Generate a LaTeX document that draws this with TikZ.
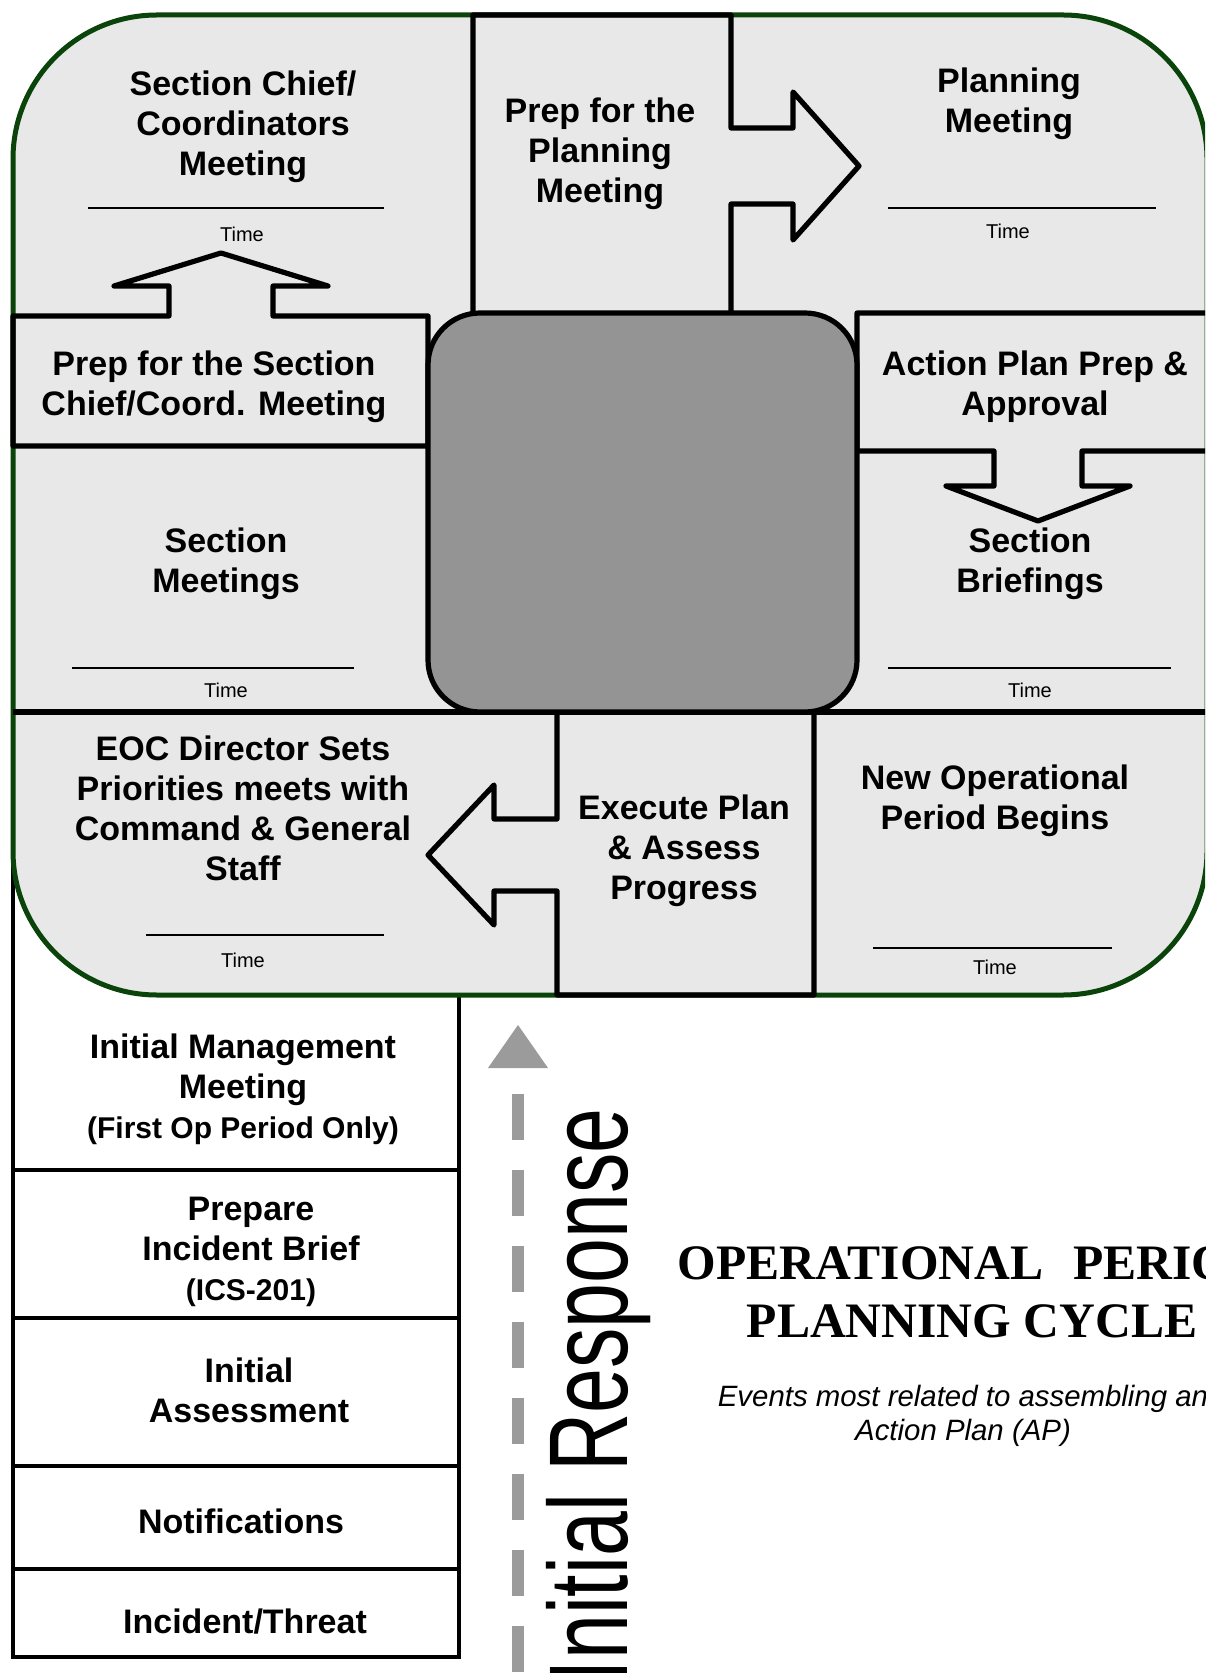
\documentclass[tikz,border=0pt]{standalone}
\usepackage{graphicx}
\usepackage{fontspec}
\setmainfont{Liberation Sans}
\newfontfamily\titleserif{Liberation Serif}
\usetikzlibrary{arrows.meta}
\definecolor{CyclePale}{RGB}{232,232,232}
\definecolor{CycleCore}{RGB}{148,148,148}
\definecolor{CycleGreen}{RGB}{10,68,10}
\definecolor{CycleDash}{RGB}{155,155,155}
\newcommand{\parenfont}{\bfseries\fontsize{15}{20}\selectfont}
\tikzset{
  contorno/.style={draw=black, line width=2.6pt, line join=round},
  contornoverde/.style={draw=CycleGreen, fill=CyclePale, line width=2.5pt},
  pilha/.style={draw=black, line width=2pt},
  celltext/.style={font=\bfseries\fontsize{17}{20}\selectfont, align=center, inner sep=0pt},
  timerule/.style={draw=black, line width=0.8pt},
  timetext/.style={font=\fontsize{10}{12}\selectfont, inner sep=0pt},
}

\begin{document}
\begin{tikzpicture}[x=0.5pt,y=-0.5pt]
  \useasboundingbox (0,0) rectangle (1205,1673);
  \clip (0,0) rectangle (1205,1673);

  % ------------------------------------------------------------------ initial response stack
  \draw[pilha] (13,800) rectangle (459,1657);
  \foreach \y in {1170,1318,1466,1569}{
    \draw[pilha] (13,\y) -- (459,\y);
  }

  % ------------------------------------------------------------------ planning cycle
  \draw[contornoverde, rounded corners=72pt] (13,15) rectangle (1207,995);
  % prep for the planning meeting, arrow to the right
  \draw[contorno] (473,313) -- (473,15) -- (731,15) -- (731,128) -- (793,128) -- (793,92)
    -- (859,166) -- (793,240) -- (793,204) -- (731,204) -- (731,313);
  % prep for the section chief meeting, arrow up
  \draw[contorno] (428,316) -- (273,316) -- (273,286) -- (328,286) -- (221,253) -- (114,286)
    -- (169,286) -- (169,316) -- (13,316) -- (13,446) -- (428,446) -- cycle;
  % action plan prep, arrow down
  \draw[contorno] (1215,313) -- (857,313) -- (857,451) -- (994,451) -- (994,486) -- (946,486)
    -- (1038,521) -- (1130,486) -- (1082,486) -- (1082,451) -- (1215,451);
  \draw[contorno] (13,712) -- (1207,712);
  % execute plan, arrow to the left
  \draw[contorno] (557,712) -- (557,819) -- (494,819) -- (494,785) -- (428,855) -- (494,925)
    -- (494,891) -- (557,891) -- (557,995) -- (814,995) -- (814,712);
  % centre block
  \draw[contorno, fill=CycleCore, rounded corners=26pt] (428,313) rectangle (857,712);

  % time lines: label sits a little off the middle of its line
  \foreach \n/\xa/\xb/\yy/\xt/\yt in {sc/88/384/208/242/234, pm/888/1156/208/1008/231,
                                     sm/72/354/668/226/690, sb/888/1171/668/1030/690,
                                     eoc/146/384/935/243/960, nop/873/1112/948/995/967}{
    \draw[timerule] (\xa,\yy) -- (\xb,\yy);
    \node[timetext] (time\n) at (\xt,\yt) {Time};
  }

  \node[celltext] (scmeet) at (243,127) {Section Chief/\\Coordinators\\Meeting};
  \node[celltext] (prepplan) at (600,154) {Prep for the\\Planning\\Meeting};
  \node[celltext] (planmeet) at (1009,104) {Planning\\Meeting};
  \node[celltext] (prepsc) at (214,387) {Prep for the Section\\Chief/Coord. Meeting};
  \node[celltext] (secmeet) at (226,564) {Section\\Meetings};
  \node[celltext] (approval) at (1035,387) {Action Plan Prep \&\\Approval};
  \node[celltext] (briefing) at (1030,564) {Section\\Briefings};
  \node[celltext] (eocdir) at (243,808) {EOC Director Sets\\Priorities meets with\\Command \& General\\Staff};
  \node[celltext] (execute) at (684,851) {Execute Plan\\\& Assess\\Progress};
  \node[celltext] (newop) at (995,801) {New Operational\\Period Begins};

  % stack labels
  \node[celltext] (initmeet) at (243,1089) {Initial Management\\Meeting\\{\parenfont (First Op Period Only)}};
  \node[celltext] (brief) at (251,1252) {Prepare\\Incident Brief\\{\parenfont (ICS-201)}};
  \node[celltext] (assess) at (249,1390) {Initial\\Assessment};
  \node[celltext] (notify) at (241,1521) {Notifications};
  \node[celltext] (threat) at (245,1622) {Incident/Threat};

  % ------------------------------------------------------------------ initial response
  \coordinate (resptip) at (518,1025);
  \coordinate (resptop) at (518,1094);
  \coordinate (respbot) at (518,1700);
  \draw[CycleDash, line width=6pt, dash pattern=on 23pt off 15pt] (resptop) -- (respbot);
  \fill[CycleDash] (resptip) -- ++(30,43) -- ++(-60,0) -- cycle;
  \node[rotate=90, anchor=base east, inner sep=0pt, font=\fontsize{56}{60}\selectfont]
    (initresp) at (627,1108) {\scalebox{0.72}[1]{Initial Response}};

  % ------------------------------------------------------------------ title
  \node[font=\titleserif\bfseries\fontsize{24.8}{29}\selectfont, align=center, inner sep=0pt]
    (cycletitle) at (972,1292) {OPERATIONAL\hspace{0.6em}PERIOD\\PLANNING CYCLE};
  \node[font=\itshape\fontsize{14.7}{17}\selectfont, align=center, inner sep=0pt]
    (cyclesub) at (963,1416) {Events most related to assembling an\\Action Plan (AP)};
\end{tikzpicture}
\end{document}
